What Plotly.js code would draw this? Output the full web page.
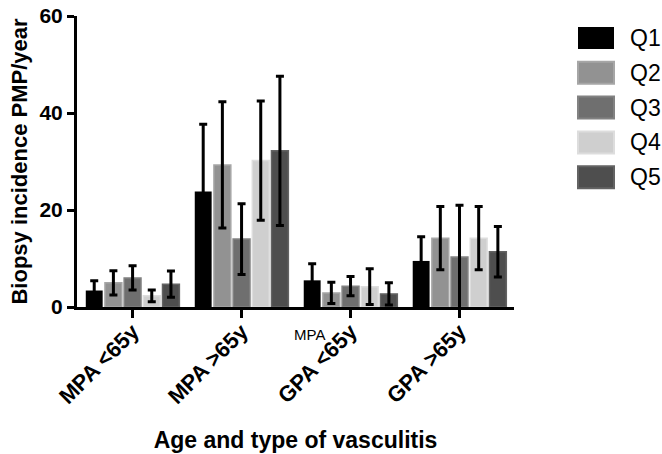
<!DOCTYPE html>
<html>
<head>
<meta charset="utf-8">
<script src="https://cdn.plot.ly/plotly-3.0.1.min.js"></script>
<style>html,body{margin:0;padding:0;background:#fff;}#chart{width:662px;height:454px;}</style>
</head>
<body>
<div id="chart"></div>
<script>
// ---- data ----
const categories = ['MPA <65y', 'MPA >65y', 'GPA <65y', 'GPA >65y'];
const seriesNames = ['Q1', 'Q2', 'Q3', 'Q4', 'Q5'];
const q1 = [3.4, 23.8, 5.5, 9.5];
const q1Err = [2.0, 13.9, 3.4, 5.0];
const q2 = [5.0, 29.3, 2.9, 14.2];
const q2Err = [2.5, 13.0, 2.2, 6.5];
const q3 = [6.0, 14.0, 4.3, 10.3];
const q3Err = [2.5, 7.3, 2.0, 10.7];
const q4 = [2.3, 30.2, 4.2, 14.2];
const q4Err = [1.2, 12.3, 3.7, 6.5];
const q5 = [4.7, 32.2, 2.7, 11.4];
const q5Err = [2.7, 15.4, 2.3, 5.2];
const yTicks = [0, 20, 40, 60];
const strayLabel = 'MPA';

// ---- styles ----
const fills = ['#000000', '#929292', '#6f6f6f', '#cfcfcf', '#4e4e4e'];
const edges = ['#000000', '#a6a6a6', '#828282', '#dddddd', '#636363'];
const FONT = 'Liberation Sans, Arial, Helvetica, sans-serif';

const values = [q1, q2, q3, q4, q5];
const errs = [q1Err, q2Err, q3Err, q4Err, q5Err];

const traces = seriesNames.map((name, i) => ({
  type: 'bar',
  name: name,
  x: categories,
  y: values[i],
  marker: {color: fills[i], line: {color: edges[i], width: i === 0 ? 0 : 1.5}},
  error_y: {type: 'data', array: errs[i], visible: true, color: '#000', thickness: 3, width: 4},
  showlegend: false
}));

// plot area in pixels
const W = 662, H = 454;
const M = {l: 77, r: 148, t: 16, b: 147};
const pw = W - M.l - M.r, ph = H - M.t - M.b;
const px = v => (v - M.l) / pw;
const py = v => (H - M.b - v) / ph;

const shapes = [];
const annotations = [];
seriesNames.forEach((name, i) => {
  const cy = 38 + i * 34.8;
  shapes.push({type: 'rect', xref: 'paper', yref: 'paper',
    x0: px(578), x1: px(614), y0: py(cy + 11), y1: py(cy - 11),
    fillcolor: fills[i], line: {color: edges[i], width: i === 0 ? 0 : 2}});
  annotations.push({xref: 'paper', yref: 'paper', x: px(628), y: py(cy),
    xanchor: 'left', yanchor: 'middle', text: name, showarrow: false,
    font: {family: FONT, size: 23, color: '#000'}});
});
annotations.push({xref: 'paper', yref: 'paper', x: px(309), y: py(334),
  xanchor: 'center', yanchor: 'middle', text: strayLabel, showarrow: false,
  font: {family: FONT, size: 15, color: '#000'}});

const layout = {
  width: W, height: H,
  margin: M,
  paper_bgcolor: '#fff', plot_bgcolor: '#fff',
  barmode: 'group', bargap: 0.12, bargroupgap: 0.12,
  showlegend: false,
  font: {family: FONT, color: '#000'},
  xaxis: {
    type: 'category', range: [-0.51, 3.5],
    showline: true, linecolor: '#000', linewidth: 3,
    ticks: 'outside', ticklen: 8, tickwidth: 3, tickcolor: '#000',
    tickangle: -45, showgrid: false, zeroline: false,
    ticklabelstandoff: -8,
    tickfont: {family: FONT, size: 22, weight: 'bold', color: '#000'},
    title: {text: 'Age and type of vasculitis', font: {family: FONT, size: 23, weight: 'bold', color: '#000'}, standoff: 24},
    automargin: false
  },
  yaxis: {
    range: [0, 60], tickvals: yTicks, ticktext: yTicks.map(String),
    showline: true, linecolor: '#000', linewidth: 3,
    ticks: 'outside', ticklen: 7, tickwidth: 3, tickcolor: '#000',
    showgrid: false, zeroline: false,
    tickfont: {family: FONT, size: 21, weight: 'bold', color: '#000'},
    title: {text: 'Biopsy incidence PMP/year', font: {family: FONT, size: 22, weight: 'bold', color: '#000'}, standoff: 6},
    automargin: false
  },
  shapes: shapes,
  annotations: annotations
};

Plotly.newPlot('chart', traces, layout, {displayModeBar: false, staticPlot: true});
</script>
</body>
</html>
